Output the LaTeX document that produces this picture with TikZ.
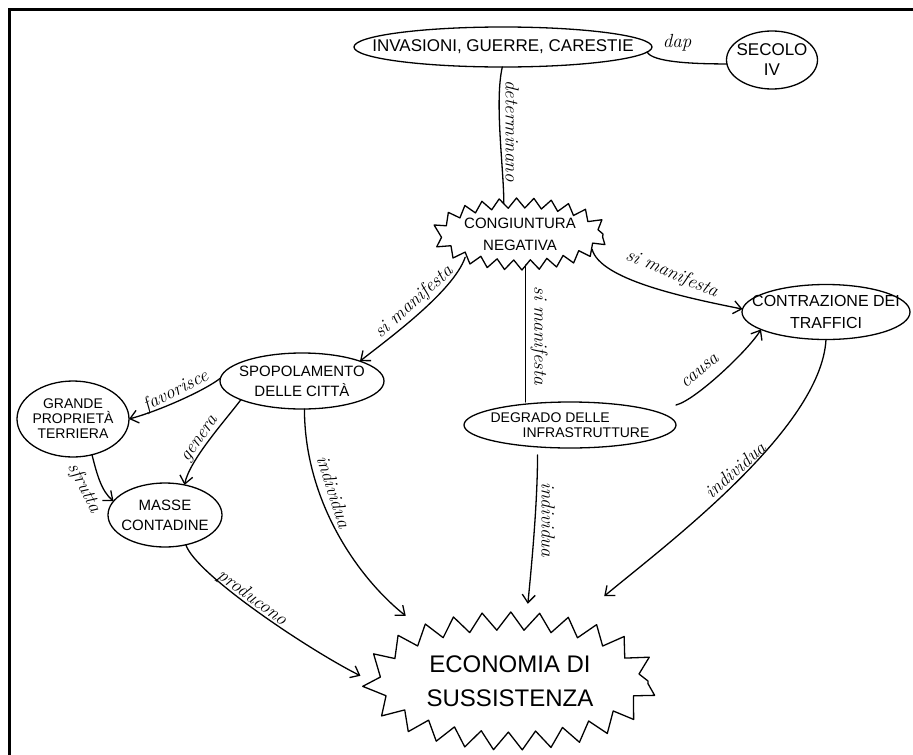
\documentclass[tikz,border=0pt]{standalone}
\usepackage{fontspec}
\newfontfamily\nodefont{Liberation Sans}
\newcommand\nfs[2]{\nodefont\fontsize{#1}{#2}\selectfont}
\usetikzlibrary{arrows.meta,decorations.pathmorphing,shapes.geometric,calc}
\begin{document}
\begin{tikzpicture}[x=1pt,y=-1pt,
  line width=1.3pt, line cap=round, line join=round,
  >={Straight Barb[length=8pt,width=13pt]},
  ell/.style={ellipse, draw, inner sep=-80pt, outer sep=0pt, align=center},
  burst/.style={ellipse, draw, inner sep=-80pt, outer sep=0pt, align=center, decorate},
  lab/.style={font=\itshape\fontsize{19}{19}\selectfont, inner sep=0pt}]
\useasboundingbox (0,0) rectangle (913,755);
\draw[line width=3pt, line cap=butt, line join=miter] (9.5,755) -- (9.5,9.5) -- (913,9.5);

\node[ell, minimum width=298pt, minimum height=40pt, font=\nfs{17}{20}] (inv) at (503,47) {INVASIONI, GUERRE, CARESTIE};
\node[ell, minimum width=91pt, minimum height=58pt, font=\nfs{17}{20}] (sec) at (772,60) {SECOLO\\IV};
\node[burst, minimum width=166pt, minimum height=62pt, decoration={zigzag,segment length=17pt,amplitude=5pt}, font=\nfs{15}{22}] (cong) at (520,234) {CONGIUNTURA\\NEGATIVA};
\node[ell, minimum width=164pt, minimum height=56pt, font=\nfs{15}{20}] (spop) at (302,381) {SPOPOLAMENTO\\DELLE CITTÀ};
\node[ell, minimum width=112pt, minimum height=76pt, font=\nfs{14}{15}] (grande) at (73,419) {GRANDE\\PROPRIETÀ\\TERRIERA};
\node[ell, minimum width=114pt, minimum height=64pt, font=\nfs{15}{20}] (masse) at (165,515) {MASSE\\CONTADINE};
\node[ell, minimum width=212pt, minimum height=46pt, align=left, font=\nfs{14}{15}] (degr) at (570,425) {DEGRADO DELLE\\\hspace*{32pt}INFRASTRUTTURE};
\node[ell, minimum width=168pt, minimum height=55pt, font=\nfs{16}{22}] (contr) at (826,312) {CONTRAZIONE DEI\\TRAFFICI};
\node[burst, minimum width=276pt, minimum height=120pt, decoration={zigzag,segment length=28pt,amplitude=9pt}, font=\nfs{24}{34}] (econ) at (510,681) {ECONOMIA DI\\SUSSISTENZA};

\draw (inv.-2) .. controls +(5,10) and +(-35,0) .. (sec.185);
\node[lab] (ldap) at (677,43) {dap};
\draw (inv.268) .. controls +(-8,35) and +(0,-35) .. (cong.118);
\node[lab, rotate=-90] (ldet) at (512,131) {determinano};
\draw[->] (cong.203) .. controls +(-12,35) and +(25,-20) .. (spop.north east);
\node[lab, rotate=42] (lsm1) at (414,302) {si manifesta};
\draw[->] (cong.-12) .. controls +(8,30) and +(-60,-12) .. (contr.178);
\node[lab, rotate=-23] (lsm2) at (672,274) {si manifesta};
\draw (cong.-80) -- (cong.-80 |- degr.north);
\node[lab, rotate=-90] (lsm3) at (539,336) {si manifesta};
\draw[->] ([yshift=20pt]degr.east) .. controls +(20,-5) and +(-12,20) .. (contr.195);
\node[lab, rotate=40] (lcau) at (700,371) {causa};
\draw[->] (spop.178) .. controls +(-15,12) and +(30,-8) .. (grande.east);
\node[lab, rotate=27] (lfav) at (176,391) {favorisce};
\draw[->] (spop.197) .. controls +(-15,20) and +(5,-25) .. (masse.57);
\node[lab, rotate=55] (lgen) at (201,440) {genera};
\draw[->] (grande.-62) .. controls +(5,20) and +(-12,-10) .. (masse.165);
\node[lab, rotate=-63] (lsfr) at (84,488) {sfrutta};
\draw[->] (masse.-55) .. controls +(10,30) and +(-50,-25) .. ($(econ.178)!-12pt!(econ.center)$);
\node[lab, rotate=-36] (lpro) at (252,598) {producono};
\draw[->] (spop.-85) .. controls +(0,90) and +(-50,-40) .. ($(econ.148)!-30pt!(econ.center)$);
\node[lab, rotate=-72] (lind1) at (334,492) {individua};
\draw[->, shorten <=8pt] (degr.214) .. controls +(0,50) and +(5,-50) .. ($(econ.77)!-18pt!(econ.center)$);
\node[lab, rotate=-90] (lind2) at (548,520) {individua};
\draw[->] (contr.-90) .. controls +(-5,90) and +(60,-50) .. ($(econ.42)!-46pt!(econ.center)$);
\node[lab, rotate=42] (lind3) at (735,470) {individua};
\end{tikzpicture}
\end{document}
